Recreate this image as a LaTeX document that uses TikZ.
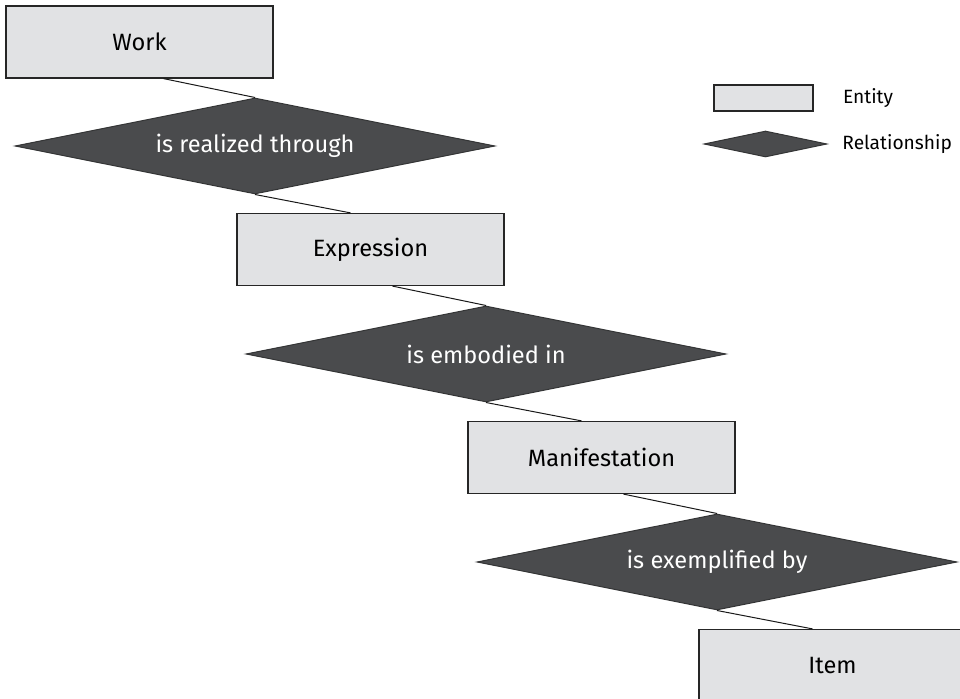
\documentclass[tikz,border=0pt]{standalone}
\usepackage{fontspec}
\setsansfont{Fira Sans}
\usetikzlibrary{positioning,shapes.geometric}
\definecolor{entityFill}{HTML}{E1E2E4}
\definecolor{relFill}{HTML}{4A4B4D}
\tikzset{
  entity/.style={rectangle, fill=entityFill, draw=black!85, line width=0.6pt, minimum width=133.5pt, minimum height=36pt, inner sep=0pt},
  relation/.style={diamond, aspect=5, fill=relFill, draw=relFill!70!black, line width=0.5pt, minimum width=240pt, minimum height=48pt, inner sep=0pt, text=white},
  link/.style={draw=black!90, line width=0.5pt},
  legendText/.style={font={\sffamily\fontsize{9.6}{11}\selectfont}, inner sep=0pt}
}

\begin{document}
\begin{tikzpicture}[x=0.5pt, y=-0.5pt, font={\sffamily\fontsize{11.8}{14}\selectfont}]
  \useasboundingbox (0,0) rectangle (960,699);

  % entities and relationships
  \node[entity] (work) at (139.5,42) {Work};
  \node[relation] (realized) at (255,146) {is realized through};
  \node[entity] (expression) at (370.5,249.5) {Expression};
  \node[relation] (embodied) at (486,354) {is embodied in};
  \node[entity] (manifestation) at (601.5,457.5) {Manifestation};
  \node[relation] (exemplified) at (717,562) {is exemplified by};
  \node[entity] (item) at (832.5,665.5) {Item};

  \draw[link] ([xshift=12pt]work.south) -- (realized.north);
  \draw[link] (realized.south) -- ([xshift=-10pt]expression.north);
  \draw[link] ([xshift=11pt]expression.south) -- (embodied.north);
  \draw[link] (embodied.south) -- ([xshift=-10pt]manifestation.north);
  \draw[link] ([xshift=11pt]manifestation.south) -- (exemplified.north);
  \draw[link] (exemplified.south) -- ([xshift=-10pt]item.north);

  % legend
  \node[entity, minimum width=49.5pt, minimum height=13pt] (legEntity) at (763.5,98) {};
  \node[legendText, right=14.5pt of legEntity] (legEntityText) {Entity};
  \node[relation, minimum width=61.5pt, minimum height=13pt] (legRelation) at (765.5,144) {};
  \node[legendText, anchor=west] (legRelationText) at (842,144) {Relationship};

\end{tikzpicture}
\end{document}
